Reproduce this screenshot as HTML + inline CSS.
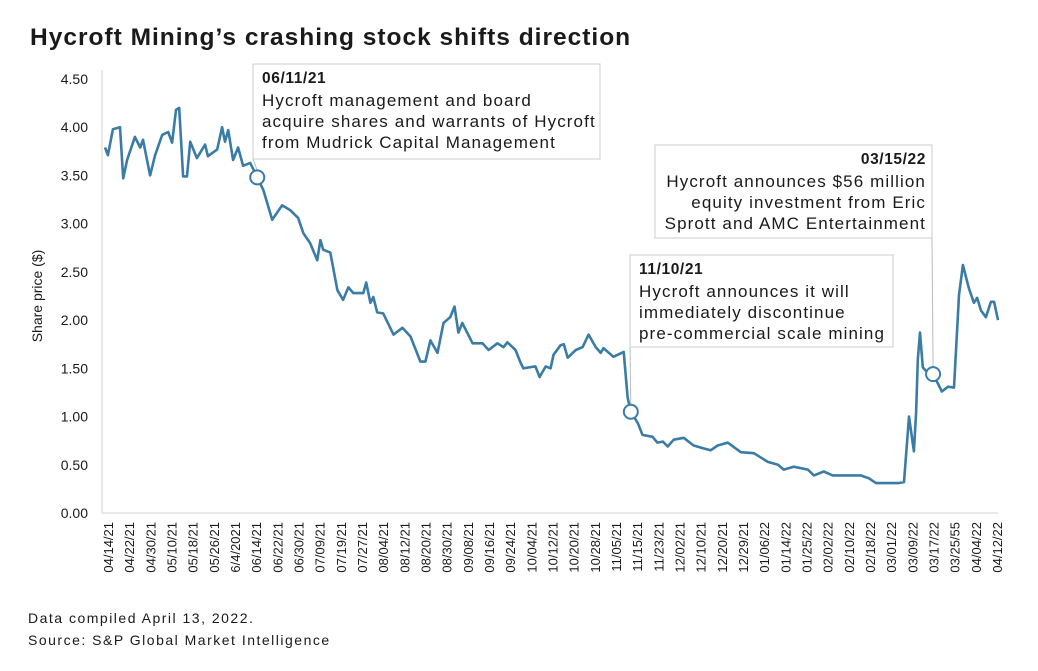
<!DOCTYPE html>
<html><head><meta charset="utf-8"><style>
html,body{margin:0;padding:0;background:#fff;}
body{width:1038px;height:666px;overflow:hidden;font-family:"Liberation Sans",sans-serif;}
svg text{font-family:"Liberation Sans",sans-serif;}
</style></head><body>
<svg id="chart" width="1038" height="666" viewBox="0 0 1038 666">
<text x="30" y="45" font-size="24.5" font-weight="bold" letter-spacing="1" fill="#1a1a1a">Hycroft Mining’s crashing stock shifts direction</text>
<text transform="translate(42,296) rotate(-90)" text-anchor="middle" font-size="14" fill="#1a1a1a">Share price ($)</text>
<g id="yticks"></g>
<g id="xticks"></g>
<line x1="102" y1="70" x2="102" y2="513" stroke="#e0e0e0" stroke-width="1.5"/>
<line x1="102" y1="513" x2="998" y2="513" stroke="#e0e0e0" stroke-width="1.5"/>
<path id="line" fill="none" stroke="#3a7ca5" stroke-width="2.6" stroke-linejoin="round"/>
<g id="annots"></g>
<text x="28" y="623" font-size="14" letter-spacing="1.5" fill="#1a1a1a">Data compiled April 13, 2022.</text>
<text x="28" y="645" font-size="14" letter-spacing="1.5" fill="#1a1a1a">Source: S&amp;P Global Market Intelligence</text>
</svg>
<script>
const dayIndex=[0.3,1.1,2.5,4.5,5.4,6.5,8.7,10.2,11,13,14.4,16.4,18.1,19.2,20.3,21.2,22.3,23.4,24.3,26.2,28.5,29.3,31.9,33.3,34.1,35,36.4,37.8,39.2,41.2,43.2,44.9,47.4,50.2,52.5,54.7,56.2,58.1,60.1,61,61.8,63.8,65.8,67.4,68.9,70.3,73.1,73.9,75.1,75.9,77,78.7,81.6,84.1,86.4,89.2,90.6,92,94,95.7,97.6,98.8,99.9,101,103.9,106.7,108.4,110.9,112.6,113.7,116,117.4,118.2,121.6,122.8,124.5,125.9,126.7,128.7,129.6,130.7,133,134.9,136.6,138.6,140,140.8,143.6,146.5,147.6,148.5,150.5,151.8,154.6,156,157.5,158.9,160.6,163.4,166.2,169,171,173,175.8,179.5,183.2,187.1,190,191.6,194.4,198.4,200.1,202.9,205.4,210.5,213.3,215.6,217.6,219.8,223.8,225.5,226.9,228.3,228.9,229.4,230,230.8,232.3,233.7,236.2,237.9,239.6,241,242.1,243.8,245.2,246.1,247.2,248.6,250,250.9,252];
const prices=[3.79,3.71,3.98,4.0,3.47,3.66,3.9,3.79,3.87,3.5,3.71,3.92,3.95,3.84,4.18,4.2,3.49,3.49,3.85,3.68,3.82,3.7,3.77,4.0,3.85,3.97,3.66,3.79,3.6,3.63,3.48,3.35,3.04,3.19,3.14,3.06,2.9,2.8,2.62,2.83,2.73,2.7,2.31,2.21,2.34,2.28,2.28,2.39,2.18,2.24,2.08,2.07,1.85,1.92,1.83,1.57,1.57,1.79,1.66,1.97,2.03,2.14,1.87,1.97,1.76,1.76,1.69,1.76,1.72,1.77,1.69,1.56,1.5,1.52,1.41,1.52,1.5,1.64,1.74,1.75,1.61,1.69,1.72,1.85,1.72,1.66,1.71,1.62,1.67,1.2,1.05,0.93,0.81,0.79,0.73,0.74,0.69,0.76,0.78,0.7,0.67,0.65,0.7,0.73,0.63,0.62,0.53,0.5,0.45,0.48,0.45,0.39,0.43,0.39,0.39,0.39,0.36,0.31,0.31,0.31,0.32,1.0,0.64,1.04,1.59,1.87,1.51,1.45,1.44,1.26,1.31,1.3,2.26,2.57,2.33,2.18,2.23,2.1,2.03,2.19,2.19,2.0];
const yTicks=[0,0.5,1,1.5,2,2.5,3,3.5,4,4.5];
const xLabels=["04/14/21","04/22/21","04/30/21","05/10/21","05/18/21","05/26/21","6/4/2021","06/14/21","06/22/21","06/30/21","07/09/21","07/19/21","07/27/21","08/04/21","08/12/21","08/20/21","08/30/21","09/08/21","09/16/21","09/24/21","10/04/21","10/12/21","10/20/21","10/28/21","11/05/21","11/15/21","11/23/21","12/02/21","12/10/21","12/20/21","12/29/21","01/06/22","01/14/22","01/25/22","02/02/22","02/10/22","02/18/22","03/01/22","03/09/22","03/17/22","03/25/55","04/04/22","04/12/22"];
const annotDays=[43.2,148.5,233.7];
const annotPrices=[3.48,1.05,1.44];
const annotDates=["06/11/21","11/10/21","03/15/22"];
const annotTexts=[["Hycroft management and board","acquire shares and warrants of Hycroft","from Mudrick Capital Management"],["Hycroft announces it will","immediately discontinue","pre-commercial scale mining"],["Hycroft announces $56 million","equity investment from Eric","Sprott and AMC Entertainment"]];

const NS="http://www.w3.org/2000/svg";
const xS=d=>104+d*(998-104)/252;
const yS=v=>513-v*(513-79)/4.5;
function mk(tag,attrs,parent){const e=document.createElementNS(NS,tag);for(const k in attrs)e.setAttribute(k,attrs[k]);parent.appendChild(e);return e;}

const yg=document.getElementById('yticks');
yTicks.forEach(v=>{const t=mk('text',{x:88,y:yS(v)+5,'text-anchor':'end','font-size':14,fill:'#1a1a1a'},yg);


t.textContent=v.toFixed(2);});

const xg=document.getElementById('xticks');
const n=xLabels.length;
xLabels.forEach((l,i)=>{const x=108+i*(997-108)/(n-1);
const t=mk('text',{transform:`translate(${x+5},522) rotate(-90)`,'text-anchor':'end','font-size':13,fill:'#1a1a1a'},xg);


t.textContent=l;});

document.getElementById('line').setAttribute('d',dayIndex.map((d,i)=>(i?'L':'M')+xS(d).toFixed(1)+','+yS(prices[i]).toFixed(1)).join(''));

const ag=document.getElementById('annots');
const boxes=[{x:253,y:64,w:347,h:95,align:'start',lx:253},{x:630,y:255,w:263,h:92,align:'start',lx:630},{x:655,y:145,w:277,h:93,align:'end',lx:932}];
annotDays.forEach((d,i)=>{const b=boxes[i];const cx=xS(d),cy=yS(annotPrices[i]);
const ln=mk('line',{x1:b.lx,y1:b.y+b.h,x2:cx,y2:cy-7,stroke:'#bbbbbb','stroke-width':1},ag);


const r=mk('rect',{x:b.x,y:b.y,width:b.w,height:b.h,fill:'#fff',stroke:'#cccccc','stroke-width':1},ag);


const tx=b.align==='end'?b.x+b.w-6:b.x+9;
const dt=mk('text',{x:tx,y:b.y+19,'text-anchor':b.align,'font-size':15.5,'font-weight':'bold','letter-spacing':0.6,fill:'#1a1a1a'},ag);


dt.textContent=annotDates[i];
annotTexts[i].forEach((s,j)=>{const t=mk('text',{x:tx,y:b.y+42+j*21,'text-anchor':b.align,'font-size':17,'letter-spacing':1.1,fill:'#1a1a1a'},ag);


t.textContent=s;});
const c=mk('circle',{cx:cx,cy:cy,r:7,fill:'#fff',stroke:'#3a7ca5','stroke-width':2},ag);


});
</script>
</body></html>
